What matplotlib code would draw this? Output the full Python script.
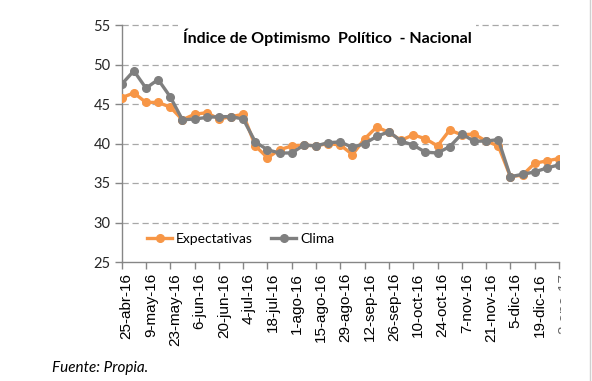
import matplotlib
matplotlib.use("Agg")
import matplotlib.pyplot as plt
from matplotlib.lines import Line2D
from matplotlib.transforms import Bbox, TransformedBbox, ScaledTranslation

# weekly readings, 25-abr-16 .. 2-ene-17
expectativas = [45.8, 46.4, 45.2, 45.2, 44.6, 43.0, 43.7, 43.9, 43.1, 43.4,
                43.7, 39.7, 38.2, 39.2, 39.7, 39.8, 39.7, 40.0, 39.8, 38.6,
                40.6, 42.1, 41.4, 40.4, 41.1, 40.6, 39.7, 41.7, 41.1, 41.2,
                40.3, 39.7, 35.8, 36.0, 37.5, 37.8, 38.1]
clima = [47.5, 49.2, 47.0, 48.1, 45.9, 43.0, 43.1, 43.3, 43.4, 43.4,
         43.1, 40.2, 39.2, 38.8, 38.8, 39.8, 39.7, 40.1, 40.2, 39.5,
         40.0, 40.9, 41.5, 40.3, 39.8, 38.9, 38.8, 39.6, 41.2, 40.3,
         40.3, 40.5, 35.8, 36.1, 36.4, 36.9, 37.3]
tick_labels = ["25-abr-16", "9-may-16", "23-may-16", "6-jun-16", "20-jun-16",
               "4-jul-16", "18-jul-16", "1-ago-16", "15-ago-16", "29-ago-16",
               "12-sep-16", "26-sep-16", "10-oct-16", "24-oct-16", "7-nov-16",
               "21-nov-16", "5-dic-16", "19-dic-16", "2-ene-17"]
y_ticks = [25, 30, 35, 40, 45, 50, 55]

ORANGE = "#F79646"
GRAY = "#7F7F7F"
AXIS = "#868686"

fig = plt.figure(figsize=(5.92, 3.81), dpi=100)
fig.patch.set_facecolor("white")
ax = fig.add_axes([121.7 / 592, 1 - 262 / 381, (559 - 121.7) / 592, (262 - 25) / 381])

x = list(range(len(expectativas)))
ax.plot(x, expectativas, color=ORANGE, lw=2.4, marker="o", ms=5.5, zorder=3,
        label="Expectativas", solid_joinstyle="round")
ax.plot(x, clima, color=GRAY, lw=2.4, marker="o", ms=5.5, zorder=4,
        label="Clima", solid_joinstyle="round")

ax.set_xlim(0, len(x) - 1)
ax.set_ylim(25, 55)
ax.set_yticks(y_ticks)
ax.set_yticklabels([str(v) for v in y_ticks], fontfamily="Lato", fontsize=10.5,
                   color="#262626")
ax.set_xticks(range(0, len(x), 2))
ax.set_xticklabels(tick_labels, rotation=90, fontfamily="Liberation Sans",
                   fontsize=11, color="black")

for s in ["top", "right"]:
    ax.spines[s].set_visible(False)
for s in ["left", "bottom"]:
    ax.spines[s].set_color(AXIS)
    ax.spines[s].set_linewidth(1.0)
ax.tick_params(axis="both", direction="out", length=5, color=AXIS, width=1.0)
ax.tick_params(axis="y", pad=3)
ax.tick_params(axis="x", pad=3)

for v in y_ticks[1:]:
    ax.axhline(v, color="#A8A8A8", lw=0.9, ls=(0, (5, 3)), zorder=1, clip_on=False)

# nudge x labels a little right, clip the last one at the chart edge
off = ScaledTranslation(5 / 100, 0, fig.dpi_scale_trans)
labels = ax.get_xticklabels()
for lbl in labels:
    lbl.set_transform(lbl.get_transform() + off)
clip = TransformedBbox(Bbox([[0, 0], [561 / 592, 1]]), fig.transFigure)
labels[-1].set_clip_box(clip)
labels[-1].set_clip_on(True)
labels[-1].set_alpha(0.6)

handles = [Line2D([], [], color=ORANGE, lw=2.4, marker="o", ms=5.5),
           Line2D([], [], color=GRAY, lw=2.4, marker="o", ms=5.5)]
leg = ax.legend(handles, ["Expectativas", "Clima"], loc="center left",
                bbox_to_anchor=(0.058, 0.096), ncol=2, frameon=False,
                borderpad=0, borderaxespad=0, handlelength=1.8,
                handletextpad=0.3, columnspacing=1.3,
                prop={"family": "Lato", "size": 10})

fig.text(327 / 592, 1 - 37 / 381, "Índice de Optimismo  Político  - Nacional",
         ha="center", va="center", fontfamily="Lato", fontweight="bold",
         fontsize=11.5, color="black",
         bbox=dict(facecolor="white", edgecolor="none", pad=3))

fig.text(52 / 592, 1 - 368 / 381, "Fuente: Propia.", ha="left", va="center",
         fontfamily="Lato", fontstyle="italic", fontsize=11, color="black")

fig.add_artist(Line2D([590 / 592, 590 / 592], [0, 1], color="#D0D0D0", lw=1.0,
                      transform=fig.transFigure))

fig.savefig("out.png", dpi=100)
